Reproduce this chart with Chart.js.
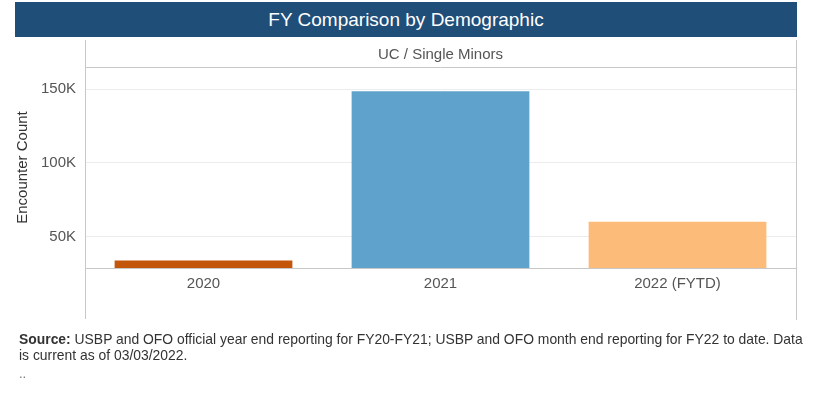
<!DOCTYPE html>
<html>
<head>
<meta charset="utf-8">
<script src="https://cdn.jsdelivr.net/npm/chart.js@4/dist/chart.umd.min.js"></script>
<style>
  html, body { margin: 0; padding: 0; background: #fff; }
  body { width: 813px; height: 397px; position: relative; overflow: hidden; font-family: "Liberation Sans", Arial, sans-serif; }
  #titlebar { position: absolute; left: 15px; top: 2px; width: 782px; height: 35px; background: #1f4e79; color: #fff;
    font-size: 19px; line-height: 36px; text-align: center; }
  #wrap { position: absolute; left: 0; top: 0; width: 813px; height: 397px; }
  #source { position: absolute; left: 19px; top: 331px; font-size: 13.9px; line-height: 16px; color: #333; white-space: nowrap; }
  #dots { position: absolute; left: 19px; top: 366px; font-size: 13px; color: #777; }
</style>
</head>
<body>
<div id="wrap"><canvas id="c"></canvas></div>
<div id="titlebar">FY Comparison by Demographic</div>
<div id="source"><b>Source:</b> USBP and OFO official year end reporting for FY20-FY21; USBP and OFO month end reporting for FY22 to date. Data<br>is current as of 03/03/2022.</div>
<div id="dots">..</div>
<script>
const categories = ['2020', '2021', '2022 (FYTD)'];
const encounters = [33800, 148500, 60200];
const barColors = ['#c4560b', '#5fa2cc', '#fdbb79'];
const tickValues = [50000, 100000, 150000];
const tickLabels = ['50K', '100K', '150K'];
const panelTitle = 'UC / Single Minors';
const yTitle = 'Encounter Count';

const FONT = '"Liberation Sans", Arial, sans-serif';

const panelPlugin = {
  id: 'panel',
  afterDraw(chart) {
    const ctx = chart.ctx;
    const a = chart.chartArea;
    ctx.save();
    ctx.strokeStyle = '#c8c8c8';
    ctx.lineWidth = 1;
    ctx.beginPath();
    ctx.moveTo(Math.round(a.left) + 0.5, 40);
    ctx.lineTo(Math.round(a.left) + 0.5, 319);
    ctx.moveTo(Math.round(a.right) + 0.5, 40);
    ctx.lineTo(Math.round(a.right) + 0.5, 320);
    ctx.moveTo(a.left, Math.round(a.top) + 0.5);
    ctx.lineTo(a.right, Math.round(a.top) + 0.5);
    ctx.stroke();
    ctx.fillStyle = '#555';
    ctx.font = '15px ' + FONT;
    ctx.textAlign = 'center';
    ctx.textBaseline = 'middle';
    ctx.fillText(panelTitle, (a.left + a.right) / 2, 55);
    ctx.restore();
  }
};

new Chart(document.getElementById('c'), {
  type: 'bar',
  data: {
    labels: categories,
    datasets: [{
      data: encounters,
      backgroundColor: barColors,
      borderWidth: 0,
      barPercentage: 0.75,
      categoryPercentage: 1.0
    }]
  },
  options: {
    responsive: true,
    maintainAspectRatio: false,
    animation: false,
    layout: { padding: { left: 0, right: 17, top: 67, bottom: 0 } },
    plugins: { legend: { display: false }, tooltip: { enabled: false } },
    scales: {
      x: {
        grid: { display: false, drawTicks: false },
        border: { display: true, color: '#c8c8c8' },
        ticks: { color: '#555', padding: 7, font: { size: 15, family: FONT } },
        afterFit(s) { s.height = 129; }
      },
      y: {
        min: 28800,
        max: 165000,
        grid: { color: '#ececec', drawTicks: false },
        border: { display: false },
        afterBuildTicks(s) { s.ticks = tickValues.map(v => ({ value: v })); },
        ticks: {
          color: '#555', padding: 9,
          font: { size: 15, family: FONT },
          callback(v) { const i = tickValues.indexOf(v); return i >= 0 ? tickLabels[i] : ''; }
        },
        title: {
          display: true, text: yTitle, color: '#333',
          font: { size: 15, family: FONT },
          padding: { top: 14, bottom: 0 }
        },
        afterFit(s) { s.width = 85; }
      }
    }
  },
  plugins: [panelPlugin]
});
</script>
</body>
</html>
